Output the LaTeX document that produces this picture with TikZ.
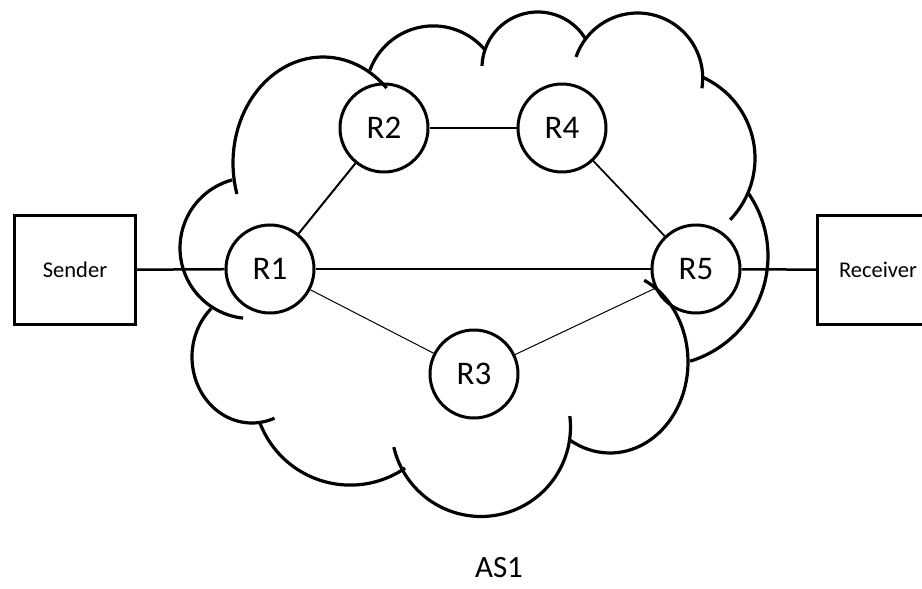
\documentclass[tikz,border=0pt]{standalone}
\usepackage{fontspec}
\setmainfont{Carlito}
\newcommand\lobeE[6]{\draw plot[domain=#5:#6,samples=60] ({#1+#3*cos(\x)},{#2+#4*sin(\x)});}
\begin{document}
\begin{tikzpicture}[x=1pt,y=-1pt,
  router/.style={circle,draw,line width=3pt,minimum size=88pt,inner sep=0pt,font=\fontsize{33}{38}\selectfont},
  hostbox/.style={rectangle,draw,line width=3.3pt,minimum width=121pt,minimum height=109pt,inner sep=0pt,font=\fontsize{22.5}{26}\selectfont},
  cloudline/.style={line width=3.2pt,line cap=butt}]
\useasboundingbox (0,0) rectangle (922,589);
\clip (0,0) rectangle (922,589);
% cloud lobes: centre x, centre y, radius x, radius y, start angle, end angle
\begin{scope}[cloudline]
\lobeE{250.5}{248}{70.5}{70.5}{96}{255}
\lobeE{323}{163}{90}{106}{163}{315}
\lobeE{433.3}{93.4}{67.5}{67.5}{200}{320}
\lobeE{537.8}{67.8}{55.8}{55.8}{182}{328}
\lobeE{637.6}{78.1}{65.1}{65.1}{199}{369}
\lobeE{666.3}{158.2}{88.7}{88.7}{-66}{44}
\lobeE{658}{256}{110}{110}{-35}{73}
\lobeE{610}{362}{78}{91}{-64}{122}
\lobeE{481}{427}{89.5}{89.5}{-7}{167}
\lobeE{350.3}{388.3}{96.8}{96.8}{55.5}{159}
\lobeE{252}{357}{60}{66}{68}{227}
\end{scope}
% nodes
\node[hostbox] (S) at (75,270) {Sender};
\node[hostbox] (Rc) at (878,270) {Receiver};
\node[router] (R1) at (270,269) {R1};
\node[router] (R2) at (384,128) {R2};
\node[router] (R4) at (562,128) {R4};
\node[router] (R5) at (696,269) {R5};
\node[router] (R3) at (474,374) {R3};
\node[font=\fontsize{31}{36}\selectfont] (AS) at (499,568) {AS1};
% links
\draw[line width=2.5pt] (S) -- (R1);
\draw[line width=2.5pt] (R5) -- (Rc);
\draw[line width=2.7pt] (R1) -- (R5);
\draw[line width=2pt] (R1) -- (R2);
\draw[line width=2.3pt] (R2) -- (R4);
\draw[line width=1.7pt] (R4) -- (R5);
\draw[line width=1pt] (R1) -- (R3);
\draw[line width=1pt] (R3) -- (R5);
\end{tikzpicture}
\end{document}
